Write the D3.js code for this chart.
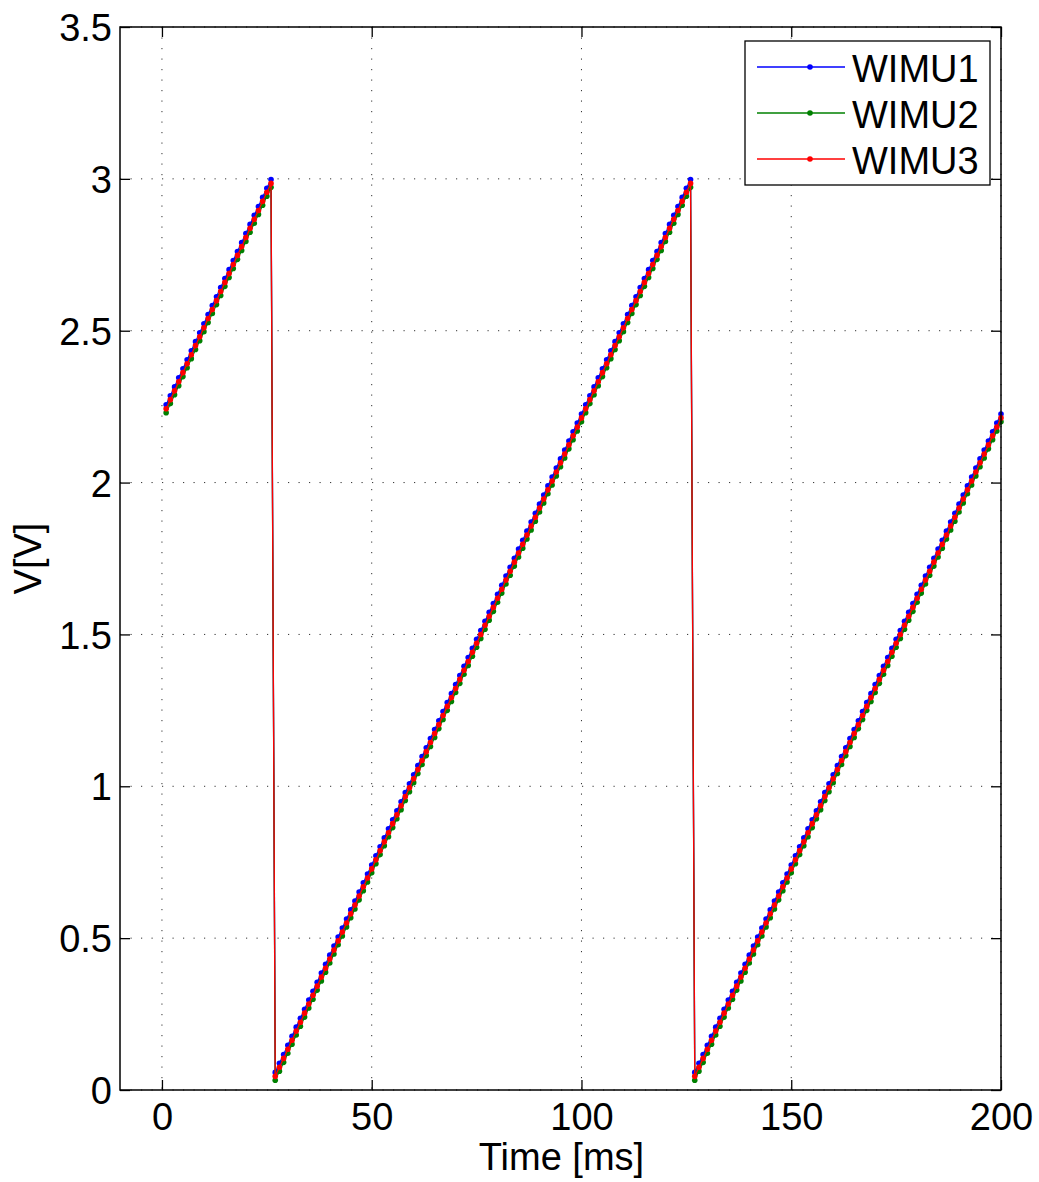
<!DOCTYPE html>
<html>
<head>
<meta charset="utf-8">
<script src="https://cdn.jsdelivr.net/npm/d3@7"></script>
<style>
  body { margin: 0; background: #fff; }
  text { font-family: "Liberation Sans", Arial, sans-serif; }
</style>
</head>
<body>
<svg id="chart"></svg>
<script>
var width = 1039,
    height = 1182,
    margin = {left: 120, top: 27, right: 38, bottom: 92};

// sample times [ms]
var time = d3.range(1, 201);

var seriesNames = ['WIMU1', 'WIMU2', 'WIMU3'];
var seriesColors = ['#0000ff', '#008000', '#ff0000'];

var xTicks = [0, 50, 100, 150, 200];
var yTicks = [0, 0.5, 1, 1.5, 2, 2.5, 3, 3.5];

// WIMU1 [V]
var wimu1 = [
  2.256, 2.286, 2.315, 2.345, 2.375, 2.404, 2.434, 2.464, 2.493, 2.523,
  2.553, 2.583, 2.612, 2.642, 2.672, 2.701, 2.731, 2.761, 2.790, 2.820,
  2.850, 2.880, 2.909, 2.939, 2.969, 2.998,
  0.058, 0.088, 0.117, 0.147, 0.177, 0.207, 0.236, 0.266, 0.296, 0.325,
  0.355, 0.385, 0.414, 0.444, 0.474, 0.504, 0.533, 0.563, 0.593, 0.622,
  0.652, 0.682, 0.711, 0.741, 0.771, 0.801, 0.830, 0.860, 0.890, 0.919,
  0.949, 0.979, 1.008, 1.038, 1.068, 1.098, 1.127, 1.157, 1.187, 1.216,
  1.246, 1.276, 1.305, 1.335, 1.365, 1.395, 1.424, 1.454, 1.484, 1.513,
  1.543, 1.573, 1.602, 1.632, 1.662, 1.692, 1.721, 1.751, 1.781, 1.810,
  1.840, 1.870, 1.899, 1.929, 1.959, 1.989, 2.018, 2.048, 2.078, 2.107,
  2.137, 2.167, 2.196, 2.226, 2.256, 2.286, 2.315, 2.345, 2.375, 2.404,
  2.434, 2.464, 2.493, 2.523, 2.553, 2.583, 2.612, 2.642, 2.672, 2.701,
  2.731, 2.761, 2.790, 2.820, 2.850, 2.880, 2.909, 2.939, 2.969, 2.998,
  0.058, 0.088, 0.117, 0.147, 0.177, 0.207, 0.236, 0.266, 0.296, 0.325,
  0.355, 0.385, 0.414, 0.444, 0.474, 0.504, 0.533, 0.563, 0.593, 0.622,
  0.652, 0.682, 0.711, 0.741, 0.771, 0.801, 0.830, 0.860, 0.890, 0.919,
  0.949, 0.979, 1.008, 1.038, 1.068, 1.098, 1.127, 1.157, 1.187, 1.216,
  1.246, 1.276, 1.305, 1.335, 1.365, 1.395, 1.424, 1.454, 1.484, 1.513,
  1.543, 1.573, 1.602, 1.632, 1.662, 1.692, 1.721, 1.751, 1.781, 1.810,
  1.840, 1.870, 1.899, 1.929, 1.959, 1.989, 2.018, 2.048, 2.078, 2.107,
  2.137, 2.167, 2.196, 2.226
];

// WIMU2 [V]
var wimu2 = [
  2.230, 2.260, 2.289, 2.319, 2.349, 2.378, 2.408, 2.438, 2.467, 2.497,
  2.527, 2.557, 2.586, 2.616, 2.646, 2.675, 2.705, 2.735, 2.764, 2.794,
  2.824, 2.854, 2.883, 2.913, 2.943, 2.972,
  0.032, 0.062, 0.091, 0.121, 0.151, 0.181, 0.210, 0.240, 0.270, 0.299,
  0.329, 0.359, 0.388, 0.418, 0.448, 0.478, 0.507, 0.537, 0.567, 0.596,
  0.626, 0.656, 0.685, 0.715, 0.745, 0.775, 0.804, 0.834, 0.864, 0.893,
  0.923, 0.953, 0.982, 1.012, 1.042, 1.072, 1.101, 1.131, 1.161, 1.190,
  1.220, 1.250, 1.279, 1.309, 1.339, 1.369, 1.398, 1.428, 1.458, 1.487,
  1.517, 1.547, 1.576, 1.606, 1.636, 1.666, 1.695, 1.725, 1.755, 1.784,
  1.814, 1.844, 1.873, 1.903, 1.933, 1.963, 1.992, 2.022, 2.052, 2.081,
  2.111, 2.141, 2.170, 2.200, 2.230, 2.260, 2.289, 2.319, 2.349, 2.378,
  2.408, 2.438, 2.467, 2.497, 2.527, 2.557, 2.586, 2.616, 2.646, 2.675,
  2.705, 2.735, 2.764, 2.794, 2.824, 2.854, 2.883, 2.913, 2.943, 2.972,
  0.032, 0.062, 0.091, 0.121, 0.151, 0.181, 0.210, 0.240, 0.270, 0.299,
  0.329, 0.359, 0.388, 0.418, 0.448, 0.478, 0.507, 0.537, 0.567, 0.596,
  0.626, 0.656, 0.685, 0.715, 0.745, 0.775, 0.804, 0.834, 0.864, 0.893,
  0.923, 0.953, 0.982, 1.012, 1.042, 1.072, 1.101, 1.131, 1.161, 1.190,
  1.220, 1.250, 1.279, 1.309, 1.339, 1.369, 1.398, 1.428, 1.458, 1.487,
  1.517, 1.547, 1.576, 1.606, 1.636, 1.666, 1.695, 1.725, 1.755, 1.784,
  1.814, 1.844, 1.873, 1.903, 1.933, 1.963, 1.992, 2.022, 2.052, 2.081,
  2.111, 2.141, 2.170, 2.200
];

// WIMU3 [V]
var wimu3 = [
  2.243, 2.273, 2.302, 2.332, 2.362, 2.391, 2.421, 2.451, 2.480, 2.510,
  2.540, 2.570, 2.599, 2.629, 2.659, 2.688, 2.718, 2.748, 2.777, 2.807,
  2.837, 2.867, 2.896, 2.926, 2.956, 2.985,
  0.045, 0.075, 0.104, 0.134, 0.164, 0.194, 0.223, 0.253, 0.283, 0.312,
  0.342, 0.372, 0.401, 0.431, 0.461, 0.491, 0.520, 0.550, 0.580, 0.609,
  0.639, 0.669, 0.698, 0.728, 0.758, 0.788, 0.817, 0.847, 0.877, 0.906,
  0.936, 0.966, 0.995, 1.025, 1.055, 1.085, 1.114, 1.144, 1.174, 1.203,
  1.233, 1.263, 1.292, 1.322, 1.352, 1.382, 1.411, 1.441, 1.471, 1.500,
  1.530, 1.560, 1.589, 1.619, 1.649, 1.679, 1.708, 1.738, 1.768, 1.797,
  1.827, 1.857, 1.886, 1.916, 1.946, 1.976, 2.005, 2.035, 2.065, 2.094,
  2.124, 2.154, 2.183, 2.213, 2.243, 2.273, 2.302, 2.332, 2.362, 2.391,
  2.421, 2.451, 2.480, 2.510, 2.540, 2.570, 2.599, 2.629, 2.659, 2.688,
  2.718, 2.748, 2.777, 2.807, 2.837, 2.867, 2.896, 2.926, 2.956, 2.985,
  0.045, 0.075, 0.104, 0.134, 0.164, 0.194, 0.223, 0.253, 0.283, 0.312,
  0.342, 0.372, 0.401, 0.431, 0.461, 0.491, 0.520, 0.550, 0.580, 0.609,
  0.639, 0.669, 0.698, 0.728, 0.758, 0.788, 0.817, 0.847, 0.877, 0.906,
  0.936, 0.966, 0.995, 1.025, 1.055, 1.085, 1.114, 1.144, 1.174, 1.203,
  1.233, 1.263, 1.292, 1.322, 1.352, 1.382, 1.411, 1.441, 1.471, 1.500,
  1.530, 1.560, 1.589, 1.619, 1.649, 1.679, 1.708, 1.738, 1.768, 1.797,
  1.827, 1.857, 1.886, 1.916, 1.946, 1.976, 2.005, 2.035, 2.065, 2.094,
  2.124, 2.154, 2.183, 2.213
];

var series = [wimu1, wimu2, wimu3];

var innerW = width - margin.left - margin.right,
    innerH = height - margin.top - margin.bottom;

var x = d3.scaleLinear().domain([-10, 200]).range([0, innerW]);
var y = d3.scaleLinear().domain([0, 3.5]).range([innerH, 0]);

var svg = d3.select('#chart')
    .attr('width', width)
    .attr('height', height);

svg.append('rect')
    .attr('width', width)
    .attr('height', height)
    .attr('fill', '#fff');

var g = svg.append('g')
    .attr('transform', 'translate(' + margin.left + ',' + margin.top + ')');

// dotted grid
var grid = g.append('g').attr('class', 'grid');
grid.selectAll('line.gx')
    .data(xTicks)
    .enter().append('line')
    .attr('x1', function (d) { return x(d); })
    .attr('x2', function (d) { return x(d); })
    .attr('y1', 0)
    .attr('y2', innerH);
grid.selectAll('line.gy')
    .data(yTicks)
    .enter().append('line')
    .attr('x1', 0)
    .attr('x2', innerW)
    .attr('y1', function (d) { return y(d); })
    .attr('y2', function (d) { return y(d); });
grid.selectAll('line')
    .attr('stroke', '#333')
    .attr('stroke-width', 1)
    .attr('stroke-dasharray', '1.2,9.3');

// series lines and dot markers
var line = d3.line()
    .x(function (d, i) { return x(time[i]); })
    .y(function (d) { return y(d); });

series.forEach(function (vals, k) {
    var sg = g.append('g').attr('class', 'series');
    sg.append('path')
        .datum(vals)
        .attr('d', line)
        .attr('fill', 'none')
        .attr('stroke', seriesColors[k])
        .attr('stroke-width', 1.3);
    sg.selectAll('circle')
        .data(vals)
        .enter().append('circle')
        .attr('cx', function (d, i) { return x(time[i]); })
        .attr('cy', function (d) { return y(d); })
        .attr('r', 2.8)
        .attr('fill', seriesColors[k]);
});

// axes, ticks pointing inward on all four sides
var fmt = function (d) { return String(d); };
var fontSize = '38px';

var xAxis = g.append('g')
    .attr('transform', 'translate(0,' + innerH + ')')
    .call(d3.axisBottom(x).tickValues(xTicks).tickFormat(fmt).tickSize(-10).tickPadding(13));
var xTop = g.append('g')
    .call(d3.axisTop(x).tickValues(xTicks).tickFormat('').tickSize(-10));
var yAxis = g.append('g')
    .call(d3.axisLeft(y).tickValues(yTicks).tickFormat(fmt).tickSize(-10).tickPadding(8));
var yRight = g.append('g')
    .attr('transform', 'translate(' + innerW + ',0)')
    .call(d3.axisRight(y).tickValues(yTicks).tickFormat('').tickSize(-10));

[xAxis, xTop, yAxis, yRight].forEach(function (a) {
    a.select('.domain').remove();
    a.selectAll('line').attr('stroke', '#000').attr('stroke-width', 1.3);
    a.selectAll('text')
        .attr('fill', '#000')
        .style('font-size', fontSize)
        .style('font-family', '"Liberation Sans", Arial, sans-serif');
});
yAxis.selectAll('text').attr('dy', '0.36em');
xAxis.selectAll('text').attr('dy', '0.72em');

// axes box
g.append('rect')
    .attr('width', innerW)
    .attr('height', innerH)
    .attr('fill', 'none')
    .attr('stroke', '#000')
    .attr('stroke-width', 1.5);

// axis labels
svg.append('text')
    .attr('x', margin.left + x(100) - 20)
    .attr('y', 1170)
    .attr('text-anchor', 'middle')
    .style('font-size', fontSize)
    .text('Time [ms]');

svg.append('text')
    .attr('transform', 'translate(41,' + (margin.top + innerH / 2) + ')rotate(-90)')
    .attr('text-anchor', 'middle')
    .style('font-size', fontSize)
    .text('V[V]');

// legend
var legend = g.append('g')
    .attr('transform', 'translate(' + (innerW - 256) + ',14)');
legend.append('rect')
    .attr('width', 245)
    .attr('height', 144)
    .attr('fill', '#fff')
    .attr('stroke', '#000')
    .attr('stroke-width', 1.3);

var items = legend.selectAll('g.item')
    .data(seriesNames)
    .enter().append('g')
    .attr('class', 'item')
    .attr('transform', function (d, i) { return 'translate(0,' + (26 + i * 46) + ')'; });
items.append('line')
    .attr('x1', 12)
    .attr('x2', 100)
    .attr('stroke', function (d, i) { return seriesColors[i]; })
    .attr('stroke-width', 1.3);
items.append('circle')
    .attr('cx', 65)
    .attr('r', 2.8)
    .attr('fill', function (d, i) { return seriesColors[i]; });
items.append('text')
    .attr('x', 107)
    .attr('y', 15)
    .style('font-size', '38px')
    .text(function (d) { return d; });
</script>
</body>
</html>
